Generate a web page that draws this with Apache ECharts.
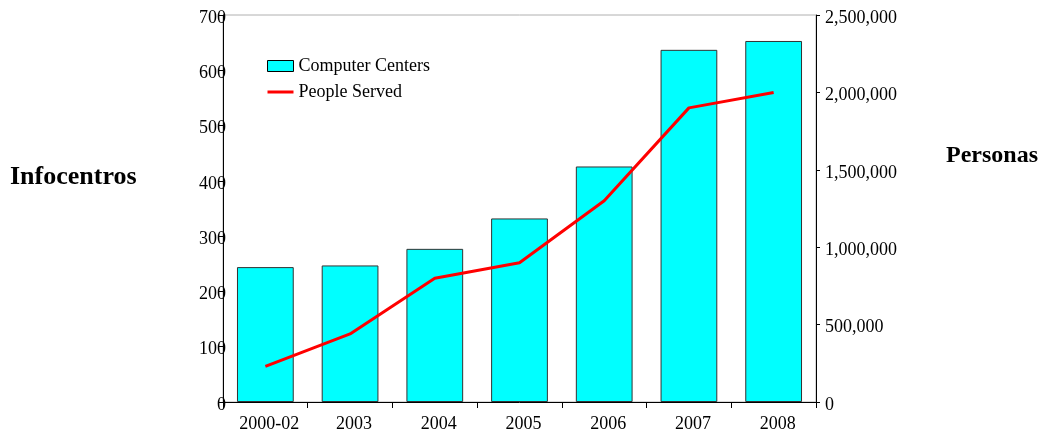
<!DOCTYPE html>
<html>
<head>
<meta charset="utf-8">
<script src="https://cdn.jsdelivr.net/npm/echarts@6/dist/echarts.min.js"></script>
<style>
html,body{margin:0;padding:0;background:#fff;}
#chart{width:1049px;height:430px;}
</style>
</head>
<body>
<div id="chart"></div>
<script>
const categories = ['2000-02', '2003', '2004', '2005', '2006', '2007', '2008'];
const computerCenters = [244, 247, 277, 332, 426, 637, 653];
const peopleServed = [230000, 440000, 800000, 900000, 1300000, 1900000, 2000000];
const leftTitle = 'Infocentros';
const rightTitle = 'Personas';
const seriesNames = ['Computer Centers', 'People Served'];

const FONT = '"Liberation Serif", "Times New Roman", serif';
const chart = echarts.init(document.getElementById('chart'));
chart.setOption({
  animation: false,
  backgroundColor: '#ffffff',
  title: [
    { text: leftTitle, left: 5, top: 159, padding: 5, textStyle: { fontFamily: FONT, fontSize: 26, fontWeight: 'bold', color: '#000' } },
    { text: rightTitle, left: 941, top: 139, padding: 5, textStyle: { fontFamily: FONT, fontSize: 24, fontWeight: 'bold', color: '#000' } }
  ],
  legend: {
    orient: 'vertical',
    left: 262,
    top: 52,
    itemWidth: 26,
    itemHeight: 11,
    itemGap: 8,
    textStyle: { fontFamily: FONT, fontSize: 18, color: '#000' },
    data: [
      { name: seriesNames[0], icon: 'rect', itemStyle: { color: '#00ffff', borderColor: '#000', borderWidth: 1 } },
      { name: seriesNames[1], icon: 'path://M0,0 L26,0 L26,3 L0,3 Z', itemStyle: { color: '#ff0000' } }
    ]
  },
  grid: {
    left: 223, right: 233, top: 15, bottom: 28,
    outerBoundsMode: 'none',
    containLabel: false,
    show: true, borderColor: '#b0b0b0', borderWidth: 1
  },
  xAxis: {
    type: 'category',
    data: categories,
    axisLine: { lineStyle: { color: '#000', width: 1 } },
    axisTick: { show: true, length: 6, lineStyle: { color: '#000' } },
    axisLabel: { fontFamily: FONT, fontSize: 18, color: '#000', margin: 13, padding: [0, 0, 0, 8] }
  },
  yAxis: [
    {
      type: 'value', min: 0, max: 700, interval: 100,
      axisLine: { show: true, lineStyle: { color: '#000', width: 1 } },
      axisTick: { show: true, length: 4, lineStyle: { color: '#000' } },
      splitLine: { show: false },
      axisLabel: { fontFamily: FONT, fontSize: 18, color: '#000', margin: -3, verticalAlign: 'top', lineHeight: 6 }
    },
    {
      type: 'value', min: 0, max: 2500000, interval: 500000,
      position: 'right',
      axisLine: { show: true, lineStyle: { color: '#000', width: 1 } },
      axisTick: { show: true, length: 4, lineStyle: { color: '#000' } },
      splitLine: { show: false },
      axisLabel: {
        fontFamily: FONT, fontSize: 18, color: '#000', margin: 9, verticalAlign: 'top', lineHeight: 6,
        formatter: v => v.toLocaleString('en-US')
      }
    }
  ],
  series: [
    {
      name: seriesNames[0],
      type: 'bar',
      yAxisIndex: 0,
      data: computerCenters,
      barCategoryGap: '33%',
      itemStyle: { color: '#00ffff', borderColor: '#333', borderWidth: 1 }
    },
    {
      name: seriesNames[1],
      type: 'line',
      yAxisIndex: 1,
      data: peopleServed,
      symbol: 'none',
      lineStyle: { color: '#ff0000', width: 3 },
      itemStyle: { color: '#ff0000' }
    }
  ]
});
</script>
</body>
</html>
